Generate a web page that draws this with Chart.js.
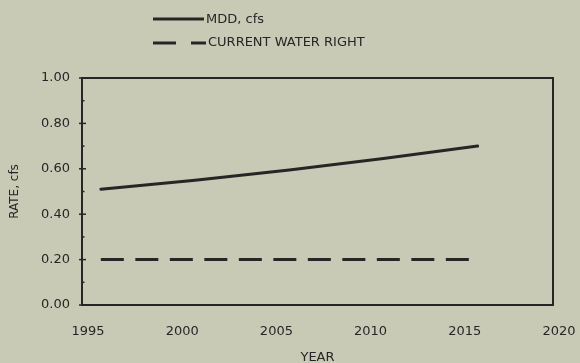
<!DOCTYPE html>
<html>
<head>
<meta charset="utf-8">
<script src="https://cdn.jsdelivr.net/npm/chart.js@4/dist/chart.umd.min.js"></script>
<style>
  html, body { margin: 0; padding: 0; background: #c8cab6; }
  #wrap { width: 580px; height: 363px; position: relative; }
</style>
</head>
<body>
<div id="wrap"><canvas id="c" width="580" height="363"></canvas></div>
<script>
// Projection years and rates (cfs)
const years = [1996, 2001, 2006, 2011, 2016];
const mddRates = [0.51, 0.55, 0.595, 0.645, 0.70];
const waterRightRates = [0.20, 0.20, 0.20, 0.20, 0.20];

const seriesLabels = ['MDD, cfs', 'CURRENT WATER RIGHT'];
const xTickYears = [1995, 2000, 2005, 2010, 2015, 2020];
const yTickValues = [0, 0.2, 0.4, 0.6, 0.8, 1.0];

const ink = '#262626';
const font = 'DejaVu Sans';

function points(xs, ys) { return xs.map((x, i) => ({ x: x, y: ys[i] })); }

// Frame, axis tick marks and the two-row legend
const decorations = {
  id: 'decorations',
  afterDatasetsDraw(chart) {
    const { ctx, chartArea: a, scales } = chart;
    ctx.save();
    ctx.strokeStyle = ink;
    ctx.lineWidth = 2;
    ctx.setLineDash([]);
    ctx.strokeRect(a.left, a.top, a.right - a.left, a.bottom - a.top);

    // y ticks: major crossing the axis, minor inside
    ctx.lineWidth = 1.5;
    for (let v = 0; v <= 10; v++) {
      const y = scales.y.getPixelForValue(v / 10);
      ctx.beginPath();
      if (v % 2 === 0) { ctx.moveTo(a.left - 3, y); ctx.lineTo(a.left + 4, y); }
      else { ctx.moveTo(a.left, y); ctx.lineTo(a.left + 2.5, y); }
      ctx.stroke();
    }

    // legend
    const ds = chart.data.datasets;
    ctx.lineWidth = 3;
    ctx.strokeStyle = ink;
    ctx.beginPath(); ctx.moveTo(153, 19); ctx.lineTo(204, 19); ctx.stroke();
    ctx.setLineDash([23, 15]);
    ctx.beginPath(); ctx.moveTo(153, 43); ctx.lineTo(206, 43); ctx.stroke();
    ctx.setLineDash([]);
    ctx.fillStyle = ink;
    ctx.font = '13px "' + font + '"';
    ctx.textBaseline = 'middle';
    ctx.textAlign = 'left';
    ctx.fillText(ds[0].label, 206, 20);
    ctx.fillText(ds[1].label, 208, 43);
    ctx.restore();
  }
};

new Chart(document.getElementById('c'), {
  type: 'line',
  data: {
    datasets: [
      {
        label: seriesLabels[0],
        data: points(years, mddRates),
        borderColor: ink,
        borderWidth: 3,
        pointRadius: 0,
        tension: 0,
        borderCapStyle: 'round'
      },
      {
        label: seriesLabels[1],
        data: points(years, waterRightRates),
        borderColor: ink,
        borderWidth: 3,
        borderDash: [23, 11.5],
        pointRadius: 0,
        tension: 0
      }
    ]
  },
  options: {
    responsive: false,
    animation: false,
    layout: { padding: { top: 78, right: 27, bottom: 0, left: 0 } },
    plugins: {
      legend: { display: false },
      tooltip: { enabled: false },
      title: { display: false }
    },
    scales: {
      x: {
        type: 'linear',
        min: 1995,
        max: 2020,
        afterFit(s) { s.height = 58; s.paddingLeft = 0; s.paddingRight = 0; },
        afterBuildTicks(s) { s.ticks = xTickYears.map(v => ({ value: v })); },
        border: { display: false },
        grid: { display: false, drawTicks: false },
        ticks: {
          padding: 19,
          labelOffset: 6,
          color: ink,
          font: { family: font, size: 13 },
          callback: v => String(v)
        },
        title: {
          display: true,
          text: 'YEAR',
          color: ink,
          font: { family: font, size: 13 },
          padding: { top: 0, bottom: -2 }
        }
      },
      y: {
        min: 0,
        max: 1,
        afterFit(s) { s.width = 82; s.paddingTop = 0; s.paddingBottom = 0; },
        afterBuildTicks(s) { s.ticks = yTickValues.map(v => ({ value: v })); },
        border: { display: false },
        grid: { display: false, drawTicks: false },
        ticks: {
          padding: 12,
          color: ink,
          font: { family: font, size: 13 },
          callback: v => v.toFixed(2)
        },
        title: {
          display: true,
          text: 'RATE, cfs',
          color: ink,
          font: { family: font, size: 12 },
          padding: { top: 8, bottom: 0 }
        }
      }
    }
  },
  plugins: [decorations]
});
</script>
</body>
</html>
